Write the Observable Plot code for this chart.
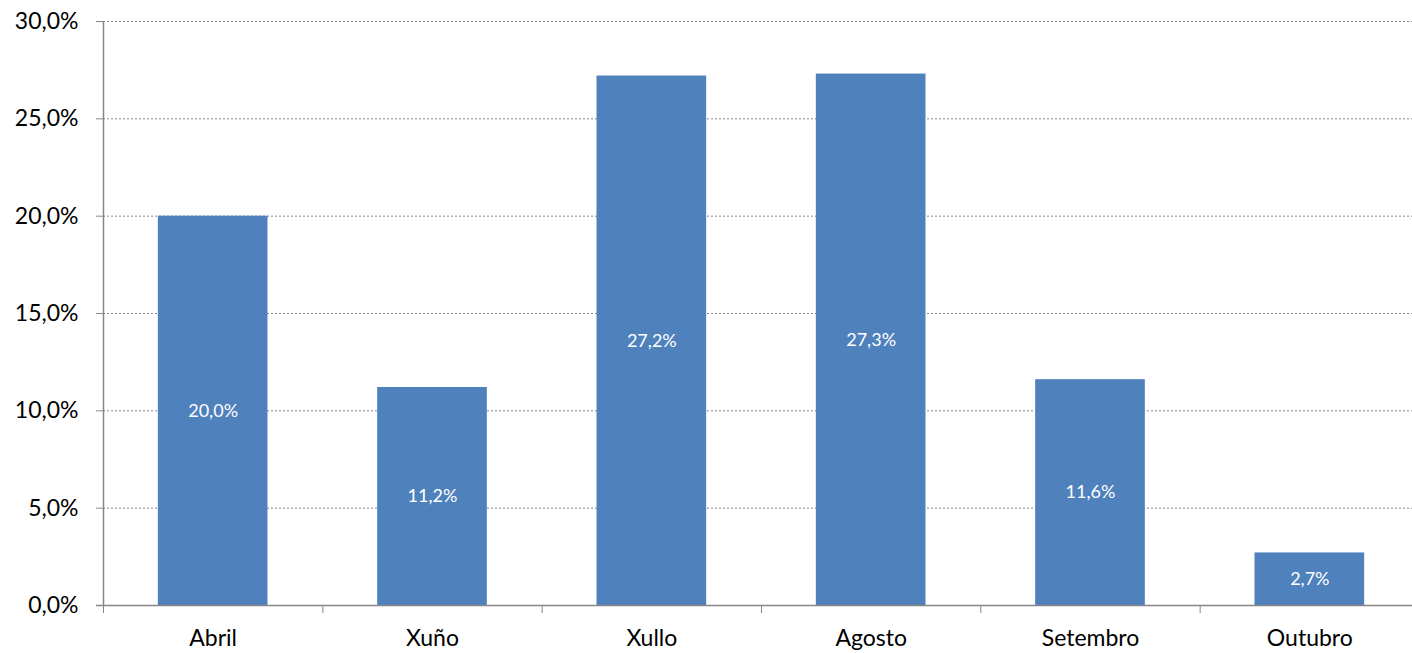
<!DOCTYPE html>
<html><head><meta charset="utf-8">
<script src="https://cdn.jsdelivr.net/npm/d3@7"></script>
<script src="https://cdn.jsdelivr.net/npm/@observablehq/plot@0.6"></script>
<style>body{margin:0;background:#fff} svg{display:block}</style>
</head><body><div id="chart"></div>
<script>
const months = ["Abril", "Xuño", "Xullo", "Agosto", "Setembro", "Outubro"];
const values = [20.0, 11.2, 27.2, 27.3, 11.6, 2.7];
const yTicks = [0, 5, 10, 15, 20, 25, 30];
const catCenters = months.map((m, i) => i + 0.5);
const catBounds = d3.range(0, months.length + 1);
const data = months.map((m, i) => ({month: m, pos: i, value: values[i]}));
const fmt = v => v.toFixed(1).replace(".", ",") + "%";

const chart = Plot.plot({
  width: 1412, height: 653,
  marginLeft: 103, marginRight: 0, marginTop: 21, marginBottom: 48,
  style: {fontFamily: "Lato, sans-serif", background: "#fff", color: "black"},
  x: {domain: [0, months.length], range: [103, 1419], axis: null, label: null},
  y: {domain: [0, 30], axis: null, label: null},
  marks: [
    Plot.ruleY(yTicks.slice(1), {stroke: "#868686", strokeDasharray: "2,2", strokeWidth: 1}),
    Plot.rectY(data, {x1: d => d.pos + 0.25, x2: d => d.pos + 0.75, y: "value", fill: "#4F81BD"}),
    Plot.text(data, {x: d => d.pos + 0.5, y: d => d.value / 2, text: d => fmt(d.value), fill: "white", fontSize: 18}),
    Plot.ruleX([0], {y1: 0, y2: 30, stroke: "#868686", strokeWidth: 1.5}),
    Plot.ruleY([0], {stroke: "#868686", strokeWidth: 1.5, insetLeft: -7}),
    Plot.axisY(yTicks, {tickSize: 7, tickPadding: 18, tickFormat: fmt, fontSize: 23, stroke: "#868686", fill: "black", label: null}),
    Plot.axisX(catBounds, {tickSize: 8, tickFormat: () => "", stroke: "#868686", label: null}),
    Plot.axisX(catCenters, {tickSize: 0, tickPadding: 24, tickFormat: v => months[Math.round(v - 0.5)], fontSize: 23, fill: "black", label: null})
  ]
});
document.getElementById("chart").append(chart);
</script>
</body></html>
